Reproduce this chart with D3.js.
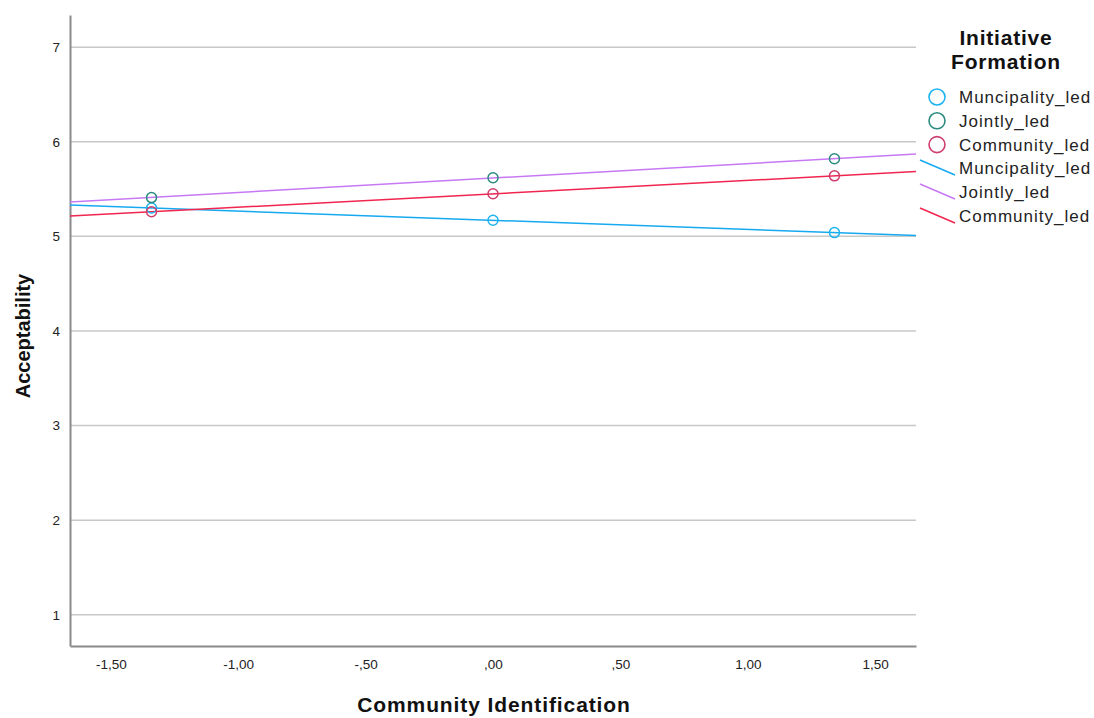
<!DOCTYPE html>
<html>
<head>
  <meta charset="utf-8"/>
  <title>Acceptability by Community Identification</title>
  <script src="https://d3js.org/d3.v7.min.js"></script>
  <style>
    body { margin: 0; background: #fff; }
    text { font-family: "Liberation Sans", Arial, sans-serif; }
  </style>
</head>
<body>
<div id="chart"></div>
<script>
// data
var groups = ["Muncipality_led", "Jointly_led", "Community_led"]
var xPoints = [-1.34, 0, 1.34]
var muncipality = [5.30, 5.17, 5.04]
var jointly = [5.41, 5.62, 5.82]
var community = [5.26, 5.45, 5.64]
var yTicks = [1, 2, 3, 4, 5, 6, 7]
var xTicks = [-1.5, -1, -0.5, 0, 0.5, 1, 1.5]

var series = [muncipality, jointly, community]
var markerColors = ["#1eb4f0", "#2a8a7e", "#cf3e6c"]
var lineColors = ["#16a9f1", "#c779f5", "#f0264f"]

var width = 1094, height = 718
var margin = {top: 15, left: 70, right: 178, bottom: 72}

var svg = d3.select("#chart").append("svg")
  .attr("width", width)
  .attr("height", height)

var x = d3.scaleLinear().domain([-1.66, 1.66]).range([margin.left, width - margin.right])
var y = d3.scaleLinear().domain([0.67, 7.34]).range([height - margin.bottom, margin.top])

// gridlines
svg.append("g")
  .selectAll("line")
  .data(yTicks)
  .enter().append("line")
    .attr("x1", x.range()[0]).attr("x2", x.range()[1])
    .attr("y1", function(d) { return y(d) }).attr("y2", function(d) { return y(d) })
    .attr("stroke", "#c8c8c8")
    .attr("stroke-width", 1.5)

// comma decimal, plain hyphen minus, no leading zero (SPSS style)
var fmt = d3.formatLocale({decimal: ",", thousands: ".", grouping: [3], currency: ["", ""], minus: "-"}).format(".2f")

// axes
var yAxis = svg.append("g")
  .attr("transform", "translate(" + margin.left + ",0)")
  .call(d3.axisLeft(y).tickValues(yTicks).tickSize(0).tickPadding(10).tickFormat(d3.format("d")))
var xAxis = svg.append("g")
  .attr("transform", "translate(0," + (height - margin.bottom) + ")")
  .call(d3.axisBottom(x).tickValues(xTicks).tickSize(0).tickPadding(13)
    .tickFormat(function(d) {
      return fmt(d).replace(/^0,/, ",").replace(/^-0,/, "-,")
    }))
;[yAxis, xAxis].forEach(function(a) {
  a.select(".domain").attr("stroke", "#8a8a8a").attr("stroke-width", 2)
  a.selectAll("text").attr("font-size", 13.5).attr("fill", "#222")
    .style("font-family", "'Liberation Sans', Arial, sans-serif")
})

// axis titles
svg.append("text")
  .attr("transform", "translate(30," + 336 + ") rotate(-90)")
  .attr("text-anchor", "middle")
  .attr("font-size", 20).attr("font-weight", "bold").attr("fill", "#111")
  .text("Acceptability")
svg.append("text")
  .attr("x", 494).attr("y", 712)
  .attr("text-anchor", "middle")
  .attr("font-size", 21).attr("font-weight", "bold").attr("fill", "#111")
  .attr("letter-spacing", 0.9)
  .text("Community Identification")

// fit lines (least squares through the plotted points)
function fit(vals) {
  var mx = d3.mean(xPoints), my = d3.mean(vals)
  var num = d3.sum(xPoints, function(xx, i) { return (xx - mx) * (vals[i] - my) })
  var den = d3.sum(xPoints, function(xx) { return (xx - mx) * (xx - mx) })
  var b = num / den
  return function(xx) { return my + b * (xx - mx) }
}

var plot = svg.append("g")
series.forEach(function(vals, i) {
  var f = fit(vals)
  var dom = x.domain()
  plot.append("path")
    .datum(dom)
    .attr("d", d3.line().x(function(d) { return x(d) }).y(function(d) { return y(f(d)) }))
    .attr("stroke", lineColors[i])
    .attr("stroke-width", 1.5)
    .attr("fill", "none")
})
series.forEach(function(vals, i) {
  plot.selectAll(".pt" + i)
    .data(vals)
    .enter().append("circle")
      .attr("cx", function(d, j) { return x(xPoints[j]) })
      .attr("cy", function(d) { return y(d) })
      .attr("r", 5)
      .attr("fill", "none")
      .attr("stroke", markerColors[i])
      .attr("stroke-width", 1.5)
})

// legend
var legend = svg.append("g")
legend.append("text")
  .attr("x", 1006).attr("y", 45)
  .attr("text-anchor", "middle")
  .attr("font-size", 21).attr("font-weight", "bold").attr("fill", "#111")
  .attr("letter-spacing", 0.8)
  .text("Initiative")
legend.append("text")
  .attr("x", 1006).attr("y", 69)
  .attr("text-anchor", "middle")
  .attr("font-size", 21).attr("font-weight", "bold").attr("fill", "#111")
  .attr("letter-spacing", 0.8)
  .text("Formation")

groups.forEach(function(g, i) {
  var cy = 97 + i * 23.8
  legend.append("circle")
    .attr("cx", 937).attr("cy", cy).attr("r", 8)
    .attr("fill", "none").attr("stroke", markerColors[i]).attr("stroke-width", 1.6)
  legend.append("text")
    .attr("x", 959).attr("y", cy + 6)
    .attr("font-size", 17).attr("fill", "#222").attr("letter-spacing", 1)
    .text(g)
})
groups.forEach(function(g, i) {
  var cy = 168 + i * 24
  legend.append("line")
    .attr("x1", 920).attr("y1", cy - 8).attr("x2", 955).attr("y2", cy + 7)
    .attr("stroke", lineColors[i]).attr("stroke-width", 1.5)
  legend.append("text")
    .attr("x", 959).attr("y", cy + 6)
    .attr("font-size", 17).attr("fill", "#222").attr("letter-spacing", 1)
    .text(g)
})
</script>
</body>
</html>
